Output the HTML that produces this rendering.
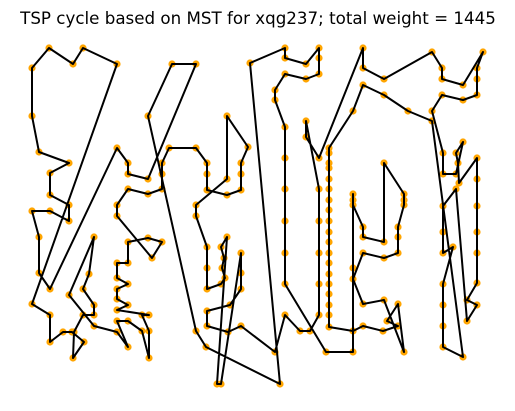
<!DOCTYPE html>
<html><head><meta charset="utf-8"><style>
html,body{margin:0;padding:0;background:#fff;}
svg{display:block;}
</style></head><body>
<svg id="chart" width="515" height="411" viewBox="0 0 515 411">
<text x="258" y="24" text-anchor="middle" font-family="DejaVu Sans, Liberation Sans, sans-serif" font-size="16.7" fill="#000">TSP cycle based on MST for xqg237; total weight = 1445</text>
<g id="dots"></g>
<g id="edges"></g>
</svg>
<script>
// tour order, x and y coordinates of the cities (data units)
const tourX = [32,49,73,83,117,32,50,50,63,72,84,73,74,83,94,94,83,89,94,69,94,117,128,117,128,142,149,149,142,149,117,128,117,117,128,117,117,128,128,148,162,152,117,117,128,148,162,162,162,169,196,207,207,207,227,241,241,241,248,227,227,196,196,207,207,207,221,225,222,224,221,227,217,221,241,241,241,230,207,207,228,241,275,285,300,310,319,319,319,319,319,306,306,319,363,363,384,432,442,442,463,483,477,477,477,463,442,432,443,443,456,463,456,458,459,477,477,477,477,477,477,467,477,467,456,443,443,443,453,443,443,443,443,463,432,408,384,363,353,329,329,329,329,329,329,329,329,329,329,329,329,329,329,329,329,329,329,329,353,363,383,398,387,398,404,384,363,353,363,384,398,398,398,404,404,404,384,384,363,363,353,353,353,353,353,326,285,285,285,285,285,285,275,275,285,306,319,319,319,306,285,285,250,280,206,196,148,172,196,148,128,128,117,50,39,39,32,50,69,69,50,50,69,39,32];
const tourY = [68,48,64,48,64,304,315,342,332,332,342,358,332,315,315,305,289,274,237,295,326,332,347,321,321,331,358,331,315,315,310,305,299,289,284,278,263,263,242,238,242,258,216,205,189,194,189,174,163,148,148,163,174,190,195,190,174,163,147,116,179,205,216,247,268,289,284,278,268,258,247,237,384,384,253,273,289,305,311,326,332,326,352,315,331,331,315,284,253,221,189,121,137,158,48,68,79,52,68,79,85,52,68,79,95,100,95,111,153,174,174,142,153,163,183,158,179,206,232,253,283,300,305,321,189,206,232,253,247,284,305,326,347,357,121,111,95,85,111,148,153,163,168,179,189,200,210,221,232,242,253,263,274,284,294,305,315,327,331,326,331,326,321,304,352,300,304,279,253,258,253,237,227,205,200,194,163,242,237,227,205,200,194,268,352,352,284,253,221,189,158,127,100,90,74,79,74,58,48,64,58,48,63,384,347,331,116,64,64,179,174,163,148,289,273,237,211,211,221,205,195,173,163,152,116];

const xDomain = [0, 515], xRange = [0, 515];
const yDomain = [0, 411], yRange = [0, 411];
function xScale(v){ return xRange[0] + (v - xDomain[0]) / (xDomain[1] - xDomain[0]) * (xRange[1] - xRange[0]); }
function yScale(v){ return yRange[0] + (v - yDomain[0]) / (yDomain[1] - yDomain[0]) * (yRange[1] - yRange[0]); }

const NS = "http://www.w3.org/2000/svg";
const dots = document.getElementById('dots');
const edges = document.getElementById('edges');
const n = Math.min(tourX.length, tourY.length);
for (let i = 0; i < n; i++) {
  const c = document.createElementNS(NS, 'circle');
  c.setAttribute('cx', xScale(tourX[i]));
  c.setAttribute('cy', yScale(tourY[i]));
  c.setAttribute('r', 3.6);
  c.setAttribute('fill', '#ffa500');
  
  
  dots.appendChild(c);
}
let pts = [];
for (let i = 0; i < n; i++) pts.push(xScale(tourX[i]) + ',' + yScale(tourY[i]));
const poly = document.createElementNS(NS, 'polygon');
poly.setAttribute('points', pts.join(' '));
poly.setAttribute('fill', 'none');
poly.setAttribute('stroke', '#000');
poly.setAttribute('stroke-width', '2');
poly.setAttribute('stroke-linejoin', 'round');


edges.appendChild(poly);
</script>
</body></html>
